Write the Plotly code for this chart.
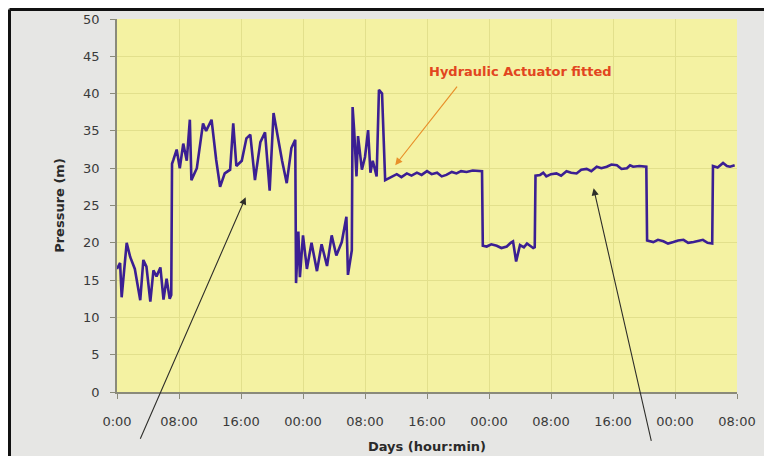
import plotly.graph_objects as go

# Time in hours since start (0:00 of day 1), pressure in metres
hours = [0.0, 0.4, 0.6, 1.25, 1.7, 2.3, 3.0, 3.4, 3.8, 4.3, 4.7, 5.1, 5.6, 6.0, 6.4, 6.8, 7.0,
         7.1, 7.27, 7.7, 8.1, 8.55, 9.0, 9.4, 9.6, 10.3, 11.1, 11.5, 12.2, 12.8, 13.3, 13.9, 14.6, 15.0,
         15.4, 16.1, 16.7, 17.2, 17.8, 18.5, 19.1, 19.7, 20.2, 20.6, 21.3, 21.9, 22.5, 23.0,
         23.1, 23.4, 23.6, 24.0, 24.5, 25.1, 25.8, 26.4, 27.1, 27.7, 28.3, 29.0, 29.6, 29.8, 30.3,
         30.4, 30.6, 30.9, 31.1, 31.6, 32.0, 32.4, 32.7, 33.0, 33.5, 33.8, 34.2, 34.6, 34.8,
         35.4, 36.1, 36.7, 37.4, 38.0, 38.7, 39.3, 40.0, 40.6, 41.3, 41.9, 42.5, 43.2, 43.8,
         44.4, 45.1, 45.9, 46.8, 47.1,
         47.2, 47.7, 48.3, 49.0, 49.6, 50.3, 50.8, 51.1, 51.5, 52.0, 52.5, 52.9, 53.3, 53.7, 53.9,
         54.0, 54.6, 55.0, 55.4, 56.0, 56.7, 57.3, 58.0, 58.6, 59.3, 59.9, 60.6, 61.2, 61.9, 62.5,
         63.2, 63.8, 64.5, 65.1, 65.8, 66.2, 66.6, 67.4, 68.3,
         68.4, 69.2, 69.8, 70.5, 71.1, 71.8, 72.4, 73.1, 73.7, 74.4, 75.0, 75.6, 76.2, 76.8,
         76.9, 77.5, 78.2, 78.7, 79.1, 79.7]
pressure = [16.5, 17.3, 12.7, 20.0, 18.1, 16.5, 12.3, 17.7, 16.8, 12.1, 16.3, 15.5, 16.7, 12.4, 15.2, 12.5, 13.0,
            30.6, 31.1, 32.5, 30.0, 33.3, 31.0, 36.5, 28.4, 30.0, 36.0, 35.0, 36.5, 31.1, 27.5, 29.3, 29.8, 36.0,
            30.3, 31.0, 34.0, 34.5, 28.4, 33.5, 34.8, 27.0, 37.4, 35.0, 31.0, 28.0, 32.7, 33.8,
            14.6, 21.5, 15.4, 21.0, 16.5, 20.0, 16.2, 19.8, 16.9, 21.0, 18.3, 20.1, 23.5, 15.7, 19.0,
            38.2, 35.1, 28.9, 34.3, 29.8, 31.5, 35.1, 29.4, 31.0, 28.9, 40.5, 40.0, 28.4, 28.5,
            28.9, 29.2, 28.8, 29.3, 29.0, 29.4, 29.1, 29.6, 29.2, 29.4, 28.9, 29.1, 29.5, 29.3,
            29.6, 29.5, 29.7, 29.6, 29.6,
            19.6, 19.5, 19.8, 19.6, 19.3, 19.5, 20.0, 20.2, 17.5, 19.7, 19.4, 19.9, 19.6, 19.3, 19.4,
            29.0, 29.1, 29.4, 28.9, 29.2, 29.3, 29.0, 29.6, 29.4, 29.3, 29.8, 29.9, 29.6, 30.2, 30.0,
            30.2, 30.5, 30.4, 29.9, 30.0, 30.4, 30.2, 30.3, 30.2,
            20.3, 20.1, 20.4, 20.2, 19.9, 20.1, 20.3, 20.4, 20.0, 20.1, 20.3, 20.4, 20.0, 19.9,
            30.3, 30.1, 30.7, 30.3, 30.2, 30.4]

tick_hours = [0, 8, 16, 24, 32, 40, 48, 56, 64, 72, 80]
tick_labels = ["0:00", "08:00", "16:00", "00:00", "08:00", "16:00", "00:00", "08:00", "16:00", "00:00", "08:00"]
y_ticks = [0, 5, 10, 15, 20, 25, 30, 35, 40, 45, 50]

FONT = "DejaVu Sans"

# Figure geometry (page body adds an 8px offset)
W, H = 764, 448
ML, MR, MT, MB = 109, 35, 11, 64
PW, PH = W - ML - MR, H - MT - MB

fig = go.Figure()
fig.add_trace(go.Scatter(
    x=hours, y=pressure, mode="lines",
    line=dict(color="#3b1f93", width=2.6),
    showlegend=False, hoverinfo="skip",
))

# Annotations
fig.add_annotation(x=52, y=42.9, text="<b>Hydraulic Actuator fitted</b>", showarrow=False,
                   font=dict(family=FONT, size=13, color="#e2451e"))
fig.add_annotation(x=35.9, y=30.4, ax=63, ay=-80, text="", showarrow=True,
                   arrowhead=2, arrowsize=1.2, arrowwidth=1.2, arrowcolor="#e8902a")
fig.add_annotation(x=16.6, y=26.1, ax=-106, ay=243, text="", showarrow=True,
                   arrowhead=2, arrowsize=1.3, arrowwidth=1.1, arrowcolor="#2e2e2a")
fig.add_annotation(x=61.5, y=27.3, ax=58, ay=254, text="", showarrow=True,
                   arrowhead=2, arrowsize=1.3, arrowwidth=1.1, arrowcolor="#2e2e2a")

# Black frame at top and left of the picture
fx = (1.5 - ML) / PW
fy = 1 + (MT - 1.5) / PH
fig.add_shape(type="line", xref="paper", yref="paper", x0=fx, x1=1.2, y0=fy, y1=fy,
              line=dict(color="#111111", width=3))
fig.add_shape(type="line", xref="paper", yref="paper", x0=fx, x1=fx, y0=-0.3, y1=fy,
              line=dict(color="#111111", width=3))

fig.update_layout(
    width=W, height=H,
    margin=dict(l=ML, r=MR, t=MT, b=MB, autoexpand=False),
    paper_bgcolor="#e6e6e4",
    plot_bgcolor="#f4f2a2",
    font=dict(family=FONT, size=13, color="#3a3a3a"),
)
fig.update_xaxes(
    range=[0, 80], tickmode="array", tickvals=tick_hours, ticktext=tick_labels,
    showgrid=True, gridcolor="#e2e08c", gridwidth=1,
    showline=True, linecolor="#8a8a7a", linewidth=1.5,
    ticks="outside", ticklen=5, tickcolor="#8a8a7a", ticklabelstandoff=12,
    zeroline=False, automargin=False,
    title=dict(text="<b>Days (hour:min)</b>", font=dict(family=FONT, size=13, color="#2a2a2a"), standoff=14),
)
fig.update_yaxes(
    range=[0, 50], tickmode="array", tickvals=y_ticks,
    showgrid=True, gridcolor="#e2e08c", gridwidth=1,
    showline=True, linecolor="#8a8a7a", linewidth=1.5,
    ticks="outside", ticklen=5, tickcolor="#8a8a7a", ticklabelstandoff=8,
    zeroline=False, automargin=False,
    title=dict(text="<b>Pressure (m)</b>", font=dict(family=FONT, size=13, color="#2a2a2a"), standoff=16),
)

fig.write_html("out.html")
